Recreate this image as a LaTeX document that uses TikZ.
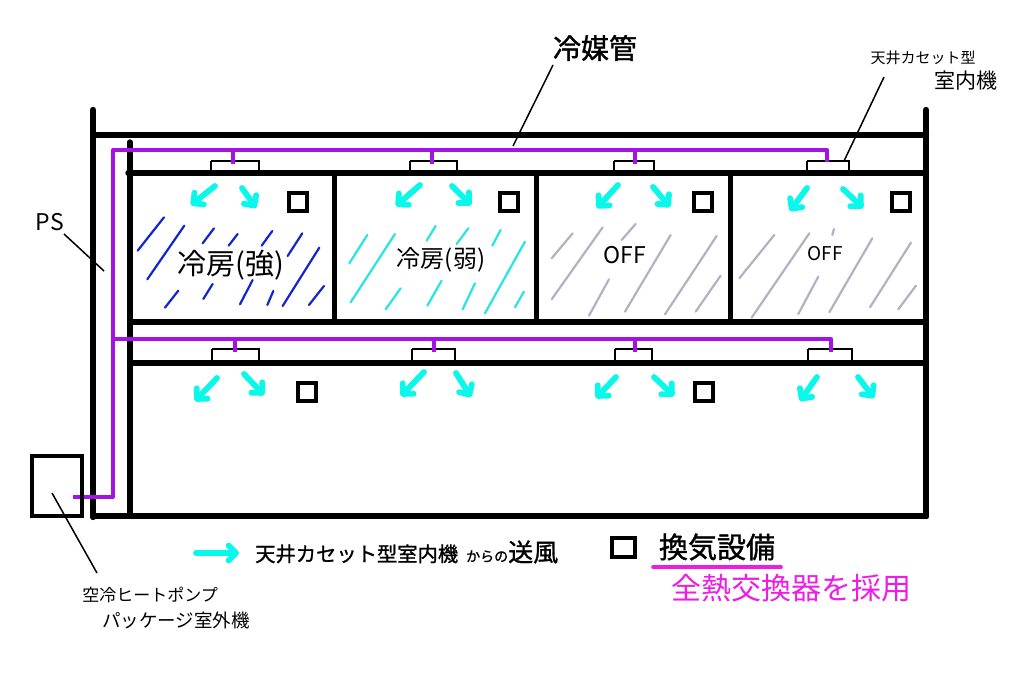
\documentclass[tikz,border=0pt]{standalone}
\usepackage{fontspec}
\setmainfont{Noto Sans CJK JP}
\newfontfamily\jpheavy[FakeBold=1.2]{Noto Sans CJK JP}
\usetikzlibrary{arrows.meta}
\newcommand\fs[1]{\fontsize{#1pt}{#1pt}\selectfont}
\newcommand\fanarr[4]{\draw[fanarrow] (#1,#2) -- (#3,#4);}
\newcommand\vent[2]{\draw[ventbox] (#1,#2) rectangle ++(18,18);}
\newcommand\unit[4]{\draw[unitbox] (#1,#3) |- (#2,#3) -- (#2,#4) (#1,#3) -- (#1,#4);}
\definecolor{pipe}{HTML}{A412E4}
\definecolor{fan}{HTML}{08F8EC}
\definecolor{hblue}{HTML}{1226CC}
\definecolor{hcyan}{HTML}{28E4E4}
\definecolor{hgray}{HTML}{B2B2C4}
\definecolor{mag}{HTML}{EE1CE4}
\tikzset{
  wall/.style={black,line width=6.4pt,line cap=round},
  inner wall/.style={black,line width=5.4pt,line cap=round},
  partition/.style={black,line width=5pt},
  pipeline/.style={pipe,line width=4pt,line join=round},
  riser/.style={pipe,line width=3.2pt},
  unitbox/.style={black,line width=2.2pt},
  ventbox/.style={black,line width=3.2pt},
  leader/.style={black,line width=1.5pt},
  fanarrow/.style={fan,line width=5.8pt,line cap=round,line join=round,
    -{Straight Barb[length=7.5pt,width=15pt,round]}},
  hatch/.style={line width=2.2pt,line cap=round},
  lbl/.style={inner sep=0pt,black,align=center},
  zoomA/.style={shift={(90,100)},x=0.3333pt,y=-0.3333pt},
  zoomB/.style={shift={(530,20)},x=0.3333pt,y=-0.3333pt}
}
\begin{document}
\begin{tikzpicture}[x=1pt,y=-1pt]
\useasboundingbox[fill=white] (0,0) rectangle (1024,682);
% walls
\draw[wall] (93,110) -- (93,517);
\draw[wall] (926,110) -- (926,516);
\draw[wall] (93,135) -- (926,135);
\draw[wall] (93,516) -- (926,516);
\draw[inner wall] (130,142) -- (130,516);
\draw[inner wall] (128,173) -- (926,173);
\draw[inner wall] (130,322) -- (926,322);
\draw[inner wall] (132,363) -- (926,363);
\draw[partition] (334,173) -- (334,322);
\draw[partition] (536,173) -- (536,322);
\draw[partition] (730,173) -- (730,322);
% indoor units
\unit{211}{259}{161}{172}
\unit{410}{457}{161}{172}
\unit{614}{654}{161}{172}
\unit{807}{849}{161}{172}
\unit{212}{259}{349}{362}
\unit{412}{455}{349}{362}
\unit{615}{652}{349}{362}
\unit{808}{852}{349}{362}
% pipes
\draw[pipeline] (73,497) -- (113,497) -- (113,150) -- (827,150) -- (827,162);
\draw[pipeline] (113,339) -- (831,339) -- (831,352);
\foreach \x in {233,432,635} \draw[riser] (\x,150) -- (\x,164);
\foreach \x in {235,434,635} \draw[riser] (\x,339) -- (\x,352);
% outdoor unit
\draw[ventbox] (32,456) rectangle (82,516);
% vents
\vent{289}{193}\vent{500}{193}\vent{694}{193}\vent{892}{193}
\vent{298}{383}\vent{695}{383}
\draw[ventbox] (612,538) rectangle (635,557);
% hatching
\begin{scope}[zoomA,hatch,hblue]
\draw (222,352)--(143,452) (283,377)--(172,538) (372,385)--(338,430) (443,402)--(416,437)
 (547,393)--(515,437) (637,400)--(593,468) (688,443)--(578,618) (265,572)--(225,623)
 (368,552)--(340,597) (488,540)--(450,613) (550,573)--(532,615) (702,558)--(657,615);
\end{scope}
\begin{scope}[zoomA,hatch,hcyan]
\draw (832,405)--(778,490) (915,402)--(782,607) (1037,378)--(1010,422) (1135,385)--(1100,432)
 (1232,390)--(1207,437) (1305,425)--(1185,640) (932,565)--(887,628) (1055,542)--(1012,617)
 (1155,550)--(1118,628) (1302,575)--(1275,622);
\end{scope}
\begin{scope}[zoomB,hatch,hgray]
\draw (128,640)--(65,715) (218,622)--(65,838) (317,612)--(275,660) (237,778)--(177,887)
 (422,645)--(285,875) (560,648)--(405,883) (572,767)--(497,875)
 (733,645)--(628,775) (838,640)--(665,893) (912,627)--(907,645) (865,770)--(805,882)
 (1027,655)--(898,877) (1143,668)--(1020,862) (1158,797)--(1105,868);
\end{scope}
% fan arrows
\fanarr{215}{186}{191}{205}\fanarr{242}{188}{256}{208}
\fanarr{420}{185}{396}{206}\fanarr{452}{186}{471}{205}
\fanarr{618}{185}{597}{208}\fanarr{653}{187}{670}{207}
\fanarr{807}{188}{790}{211}\fanarr{843}{189}{863}{208}
\fanarr{217}{378}{195}{401}\fanarr{244}{374}{264}{395}
\fanarr{424}{372}{401}{396}\fanarr{456}{373}{471}{397}
\fanarr{616}{377}{596}{398}\fanarr{654}{377}{674}{396}
\fanarr{817}{377}{800}{401}\fanarr{858}{377}{874}{398}
\fanarr{196}{553}{239}{553}
% labels
\node[lbl] (refr) at (595,48) {\jpheavy\fs{28}冷媒管};
\node[lbl] (cass) at (923,58) {\fs{15}天井カセット型};
\node[lbl] (room) at (966,81) {\fs{21}室内機};
\node[lbl] (ps) at (50,222) {\fs{23}PS};
\node[lbl] (strong) at (231,265) {\fs{29}冷房(強)};
\node[lbl] (weak) at (441,260) {\fs{24}冷房(弱)};
\node[lbl] (off1) at (625,255) {\fs{23}OFF};
\node[lbl] (off2) at (825,254) {\fs{19}OFF};
\node[lbl] (heat) at (150,595) {\fs{17}空冷ヒートポンプ};
\node[lbl] (pkg) at (176,620) {\fs{18.5}パッケージ室外機};
\node[lbl,anchor=west] (legfan) at (255,552) {\jpheavy\fs{20.3}天井カセット型室内機\hspace{8pt}{\fs{14}からの}{\fs{25}送風}};
\node[lbl] (legvent) at (717,547) {\jpheavy\fs{29}換気設備};
\node[lbl,text=mag] (legheat) at (791,588) {\fs{30}全熱交換器を採用};
% underline
\draw[mag,line width=3.6pt,line cap=round] (653,567) -- (781,567);
% leaders
\coordinate (refrS) at (553,65); \coordinate (refrE) at (513,146);
\coordinate (cassS) at (884,77); \coordinate (cassE) at (844,161);
\coordinate (psS) at (64,234); \coordinate (psE) at (104,271);
\coordinate (outS) at (52,493); \coordinate (outE) at (97,573);
\draw[leader] (refrS) -- (refrE);
\draw[leader] (cassS) -- (cassE);
\draw[leader] (psS) -- (psE);
\draw[leader] (outS) -- (outE);
\end{tikzpicture}
\end{document}
